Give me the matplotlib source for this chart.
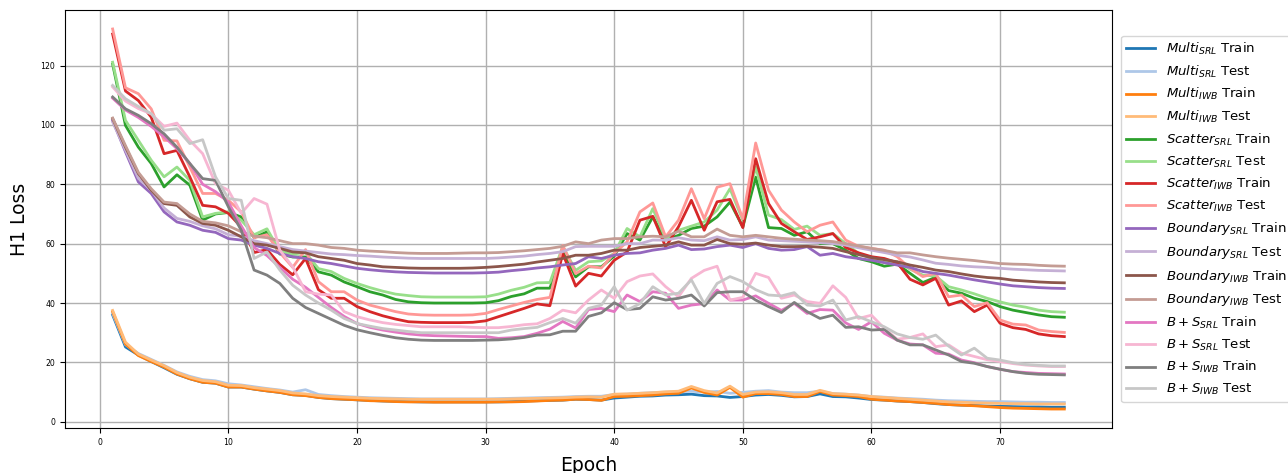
import numpy as np
import matplotlib
matplotlib.use('Agg')
import matplotlib.pyplot as plt

# ------------------------------------------------------------------------------------- #
# H1 loss per epoch
# ------------------------------------------------------------------------------------- #

epochs = np.arange(1, 76)

labels = [r'$Multi_{SRL}$ Train', r'$Multi_{SRL}$ Test',
          r'$Multi_{IWB}$ Train', r'$Multi_{IWB}$ Test',
          r'$Scatter_{SRL}$ Train', r'$Scatter_{SRL}$ Test',
          r'$Scatter_{IWB}$ Train', r'$Scatter_{IWB}$ Test',
          r'$Boundary_{SRL}$ Train', r'$Boundary_{SRL}$ Test',
          r'$Boundary_{IWB}$ Train', r'$Boundary_{IWB}$ Test',
          r'$B+S_{SRL}$ Train', r'$B+S_{SRL}$ Test',
          r'$B+S_{IWB}$ Train', r'$B+S_{IWB}$ Test']

multi_srl_train = [36.0, 25.2, 22.5, 20.3, 18.2, 16.0, 14.5, 13.3, 13.0, 11.7, 11.7, 11.0, 10.4, 9.9, 9.1, 8.9, 8.2, 7.8, 7.6, 7.4,
                   7.2, 7.0, 6.9, 6.8, 6.7, 6.7, 6.7, 6.7, 6.7, 6.7, 6.7, 6.8, 7.0, 7.1, 7.2, 7.3, 7.6, 7.5, 7.3, 8.0,
                   8.3, 8.6, 8.7, 9.0, 9.1, 9.3, 8.8, 8.7, 8.2, 8.5, 9.0, 9.2, 8.9, 8.4, 8.5, 9.4, 8.5, 8.4, 8.0, 7.5,
                   7.3, 7.0, 6.8, 6.5, 6.1, 5.8, 5.6, 5.5, 5.3, 5.2, 5.1, 5.0, 5.0, 4.9, 4.9]
multi_srl_test = [36.5, 26.0, 23.0, 21.0, 19.0, 16.8, 15.3, 14.2, 13.8, 12.8, 12.4, 11.8, 11.2, 10.7, 10.0, 10.8, 9.2, 8.8, 8.5, 8.3,
                  8.1, 8.0, 7.9, 7.8, 7.7, 7.7, 7.7, 7.7, 7.7, 7.7, 7.8, 7.9, 8.0, 8.1, 8.2, 8.3, 8.5, 8.6, 8.6, 9.2,
                  9.3, 9.6, 9.8, 10.0, 10.1, 10.3, 10.0, 10.2, 9.6, 9.9, 10.3, 10.5, 10.0, 9.8, 9.8, 10.3, 9.5, 9.3, 9.0, 8.5,
                  8.3, 8.0, 7.8, 7.6, 7.3, 7.1, 7.0, 6.9, 6.8, 6.8, 6.7, 6.6, 6.6, 6.5, 6.5]
multi_iwb_train = [37.1, 26.2, 22.3, 20.3, 18.4, 16.1, 14.5, 13.3, 13.0, 11.7, 11.7, 11.0, 10.4, 9.9, 9.1, 8.8, 8.2, 7.8, 7.6, 7.4,
                   7.1, 7.0, 6.8, 6.7, 6.7, 6.6, 6.6, 6.6, 6.6, 6.6, 6.7, 6.7, 6.8, 7.0, 7.2, 7.3, 7.6, 7.5, 7.2, 8.5,
                   8.6, 8.8, 9.0, 9.4, 9.6, 11.4, 9.9, 9.0, 11.6, 8.3, 9.5, 9.5, 9.2, 8.5, 8.5, 10.2, 9.0, 8.8, 8.5, 7.6,
                   7.3, 7.0, 6.8, 6.5, 6.2, 5.8, 5.6, 5.4, 5.1, 4.8, 4.6, 4.5, 4.4, 4.3, 4.3]
multi_iwb_test = [37.5, 26.8, 22.8, 20.8, 18.9, 16.6, 15.0, 13.9, 13.5, 12.3, 12.2, 11.5, 11.0, 10.5, 9.7, 9.4, 8.8, 8.5, 8.3, 8.1,
                  7.9, 7.8, 7.7, 7.6, 7.6, 7.6, 7.6, 7.6, 7.6, 7.6, 7.6, 7.7, 7.8, 7.9, 8.0, 8.1, 8.3, 8.4, 8.3, 9.3,
                  9.4, 9.6, 9.8, 10.1, 10.3, 11.9, 10.5, 9.7, 12.0, 9.2, 10.0, 10.1, 9.8, 9.2, 9.2, 10.6, 9.5, 9.3, 9.0, 8.5,
                  8.2, 7.9, 7.6, 7.3, 7.0, 6.7, 6.6, 6.4, 6.3, 6.2, 6.1, 6.1, 6.0, 6.0, 6.0]
scatter_srl_train = [120.5, 99.8, 92.5, 87.0, 79.1, 83.2, 79.7, 67.9, 70.0, 70.5, 69.0, 62.0, 64.0, 56.5, 55.5, 55.5, 50.5, 49.4, 47.1, 45.5,
                     43.8, 42.7, 41.2, 40.4, 40.1, 40.0, 40.0, 40.0, 40.0, 40.1, 40.8, 42.2, 43.1, 45.0, 45.0, 57.8, 48.8, 52.2, 52.2, 55.8,
                     63.4, 61.2, 69.0, 61.2, 62.8, 65.1, 65.9, 69.0, 74.0, 65.6, 82.4, 65.4, 65.1, 62.8, 64.0, 60.0, 60.0, 57.8, 55.0, 53.9,
                     52.4, 53.1, 50.0, 46.9, 48.7, 44.2, 43.3, 41.6, 40.5, 38.8, 37.6, 36.8, 36.0, 35.4, 35.2]
scatter_srl_test = [121.1, 101.5, 94.8, 88.1, 82.5, 85.8, 81.3, 69.0, 70.2, 70.7, 67.9, 63.0, 65.0, 57.5, 56.5, 57.0, 51.6, 50.6, 48.3, 46.6,
                    45.2, 44.0, 43.0, 42.5, 42.1, 42.0, 42.0, 42.0, 42.0, 42.1, 43.0, 44.3, 45.3, 46.8, 46.9, 59.1, 51.0, 53.9, 54.2, 56.7,
                    65.1, 62.3, 71.8, 61.7, 64.5, 65.9, 67.3, 71.3, 78.5, 67.9, 85.8, 69.6, 68.1, 64.8, 65.9, 62.8, 63.4, 60.0, 56.7, 55.0,
                    53.6, 53.9, 51.4, 49.4, 49.1, 45.5, 44.4, 43.1, 41.6, 40.4, 39.3, 38.6, 37.6, 37.1, 36.9]
scatter_iwb_train = [130.6, 111.4, 108.2, 102.6, 90.3, 91.4, 82.5, 72.9, 72.4, 70.2, 65.6, 57.0, 58.0, 53.0, 49.5, 55.0, 44.5, 41.6, 41.6, 38.8,
                     37.1, 35.7, 34.6, 33.7, 33.5, 33.4, 33.4, 33.4, 33.5, 34.0, 35.4, 36.8, 38.2, 39.7, 39.1, 56.7, 45.7, 50.0, 49.1, 54.4,
                     57.2, 67.9, 69.2, 58.9, 65.7, 74.6, 64.5, 74.1, 74.9, 65.4, 88.6, 73.5, 66.8, 64.0, 61.4, 62.3, 63.4, 58.7, 56.9, 55.6,
                     55.0, 53.6, 48.0, 46.1, 48.3, 39.3, 40.7, 37.1, 39.3, 33.2, 31.7, 31.1, 29.6, 29.0, 28.7]
scatter_iwb_test = [132.3, 112.5, 110.5, 105.4, 94.8, 94.6, 85.8, 76.9, 76.9, 74.6, 70.7, 62.0, 63.0, 57.0, 52.0, 58.0, 47.2, 43.8, 43.8, 41.0,
                    39.3, 38.2, 37.1, 36.3, 36.0, 35.9, 35.9, 35.9, 36.0, 36.5, 37.8, 39.0, 40.2, 41.2, 41.9, 59.4, 49.9, 52.4, 51.8, 56.7,
                    60.6, 70.7, 73.7, 62.3, 67.9, 78.5, 68.4, 79.0, 80.2, 68.4, 93.9, 78.0, 71.3, 67.3, 64.0, 66.2, 67.3, 61.2, 59.1, 58.4,
                    57.8, 55.6, 51.7, 48.9, 50.0, 42.1, 42.7, 38.8, 40.1, 34.3, 32.9, 32.6, 30.9, 30.4, 30.1]
boundary_srl_train = [101.5, 90.9, 80.8, 76.9, 70.7, 67.3, 66.2, 64.5, 63.8, 61.7, 61.2, 59.5, 58.4, 56.7, 55.6, 55.0, 53.9, 53.3, 52.5, 51.7,
                      51.2, 50.8, 50.5, 50.3, 50.2, 50.1, 50.1, 50.1, 50.1, 50.2, 50.4, 50.9, 51.3, 51.8, 52.2, 52.8, 53.3, 55.6, 55.0, 56.1,
                      56.7, 56.9, 57.8, 58.4, 59.5, 58.0, 58.2, 59.0, 59.5, 58.7, 60.0, 58.4, 57.8, 58.0, 59.0, 56.1, 56.7, 55.6, 55.0, 54.4,
                      53.6, 52.8, 52.0, 50.6, 50.0, 49.4, 48.6, 47.8, 47.1, 46.4, 45.8, 45.5, 45.2, 45.0, 44.9]
boundary_srl_test = [101.0, 91.5, 82.0, 78.0, 72.0, 68.5, 67.5, 66.0, 65.0, 63.0, 62.5, 61.0, 60.0, 59.0, 58.0, 57.5, 57.0, 56.5, 56.3, 56.0,
                     55.8, 55.5, 55.3, 55.1, 55.0, 55.0, 55.0, 55.0, 55.0, 55.0, 55.2, 55.5, 55.8, 56.3, 56.7, 57.3, 59.0, 59.1, 59.1, 59.1,
                     60.0, 60.0, 61.2, 61.2, 62.0, 61.2, 61.0, 62.3, 61.2, 61.4, 62.3, 61.2, 61.0, 60.8, 60.6, 60.3, 60.0, 59.5, 58.6, 57.8,
                     57.0, 56.1, 55.5, 54.5, 53.4, 53.0, 52.5, 52.2, 52.0, 51.7, 51.4, 51.2, 51.0, 50.9, 50.8]
boundary_iwb_train = [102.1, 92.5, 83.6, 78.0, 73.5, 72.9, 69.0, 66.8, 66.2, 64.5, 62.3, 60.0, 59.5, 58.4, 57.2, 56.9, 55.6, 55.0, 54.4, 53.3,
                      52.8, 52.2, 52.0, 51.8, 51.7, 51.7, 51.7, 51.7, 51.8, 52.0, 52.3, 52.7, 53.1, 53.8, 54.4, 55.0, 56.1, 56.1, 56.7, 57.8,
                      57.8, 58.7, 59.1, 59.5, 60.6, 59.5, 59.5, 61.4, 60.0, 59.8, 60.2, 59.5, 59.0, 59.0, 59.1, 58.8, 58.4, 57.3, 56.3, 55.3,
                      54.6, 53.9, 52.8, 52.0, 51.1, 50.6, 49.8, 49.1, 48.6, 48.3, 47.7, 47.4, 47.1, 46.9, 46.8]
boundary_iwb_test = [102.3, 93.0, 84.0, 78.5, 74.0, 73.5, 70.0, 67.5, 67.0, 66.0, 64.0, 62.5, 62.0, 61.0, 60.0, 60.0, 59.5, 58.7, 58.4, 57.8,
                     57.5, 57.3, 57.0, 56.8, 56.7, 56.7, 56.7, 56.8, 56.9, 56.9, 57.0, 57.3, 57.6, 58.0, 58.4, 59.1, 60.6, 60.0, 61.2, 61.7,
                     61.7, 62.3, 62.5, 62.3, 64.2, 62.3, 62.3, 64.9, 62.8, 62.3, 62.8, 62.3, 61.8, 61.5, 61.2, 61.0, 60.7, 60.0, 59.2, 58.4,
                     57.7, 56.9, 56.9, 56.2, 55.6, 55.1, 54.7, 54.3, 53.8, 53.3, 53.1, 53.0, 52.7, 52.5, 52.4]
bs_srl_train = [109.0, 105.0, 102.5, 99.5, 96.0, 92.0, 87.0, 80.0, 77.5, 74.0, 66.0, 58.7, 56.0, 52.0, 48.0, 45.3, 41.9, 38.5, 35.5, 33.1,
                31.8, 30.9, 30.2, 29.6, 29.2, 29.0, 28.9, 28.8, 28.7, 28.7, 28.1, 28.3, 28.7, 29.8, 31.2, 33.8, 31.6, 37.8, 38.2, 37.1,
                42.7, 40.5, 43.8, 43.3, 38.2, 39.3, 39.8, 44.4, 41.0, 41.0, 42.4, 39.9, 37.5, 39.9, 36.5, 37.8, 37.6, 33.3, 31.1, 33.7,
                29.8, 27.5, 26.2, 25.9, 23.1, 22.8, 20.8, 19.9, 18.6, 17.7, 16.9, 16.6, 16.3, 16.2, 16.1]
bs_srl_test = [112.8, 108.0, 105.5, 103.7, 99.5, 100.6, 94.8, 90.3, 80.2, 78.0, 70.2, 75.2, 73.3, 57.8, 52.2, 43.8, 43.0, 42.7, 37.1, 35.4,
               34.3, 33.4, 32.8, 32.4, 32.0, 32.0, 32.0, 32.0, 31.8, 31.7, 31.7, 32.1, 32.7, 33.0, 34.8, 37.6, 36.7, 41.0, 44.4, 41.6,
               47.2, 49.1, 49.8, 45.5, 42.1, 48.3, 51.0, 52.4, 41.0, 41.9, 50.0, 48.6, 41.6, 42.7, 40.5, 39.9, 45.8, 41.9, 34.8, 35.9,
               31.5, 27.8, 28.4, 29.6, 25.3, 25.9, 23.1, 22.0, 20.9, 20.3, 19.6, 19.1, 18.8, 18.6, 18.6]
bs_iwb_train = [109.4, 105.4, 103.2, 100.4, 97.0, 92.5, 87.0, 81.9, 81.3, 72.4, 64.5, 51.1, 49.4, 46.6, 41.6, 38.5, 36.5, 34.5, 32.5, 31.0,
                30.0, 29.1, 28.3, 27.8, 27.5, 27.4, 27.4, 27.4, 27.4, 27.5, 27.6, 27.9, 28.4, 29.2, 29.3, 30.5, 30.5, 35.5, 36.7, 40.1,
                37.8, 38.2, 42.1, 41.0, 41.6, 42.7, 39.0, 43.5, 43.8, 43.8, 41.0, 38.8, 36.8, 40.2, 37.1, 34.8, 35.9, 31.8, 32.0, 30.9,
                31.1, 27.5, 25.9, 25.9, 24.2, 22.5, 20.3, 19.7, 18.6, 17.7, 16.9, 16.3, 16.0, 15.9, 15.8]
bs_iwb_test = [113.3, 108.8, 106.2, 103.8, 98.2, 98.7, 93.7, 95.0, 82.5, 75.2, 74.6, 55.0, 57.2, 51.1, 46.0, 42.7, 40.0, 37.6, 34.8, 33.1,
               32.2, 31.4, 30.9, 30.4, 30.0, 30.0, 30.0, 30.0, 30.0, 30.0, 30.0, 30.9, 31.4, 31.8, 33.4, 34.8, 33.2, 38.2, 39.3, 45.5,
               37.6, 39.8, 45.5, 42.7, 43.3, 47.8, 39.8, 46.6, 48.9, 47.2, 44.5, 42.7, 42.4, 43.5, 39.3, 39.0, 41.0, 34.3, 35.4, 33.7,
               32.0, 29.6, 28.4, 27.8, 29.2, 25.5, 22.5, 24.8, 21.4, 20.8, 19.9, 19.3, 19.0, 18.8, 18.8]

series = [multi_srl_train, multi_srl_test, multi_iwb_train, multi_iwb_test,
          scatter_srl_train, scatter_srl_test, scatter_iwb_train, scatter_iwb_test,
          boundary_srl_train, boundary_srl_test, boundary_iwb_train, boundary_iwb_test,
          bs_srl_train, bs_srl_test, bs_iwb_train, bs_iwb_test]

# ------------------------------------------------------------------------------------- #

fig = plt.figure(figsize=(12.88, 4.73), dpi=100)
ax = fig.add_axes([0.0505, 0.0951, 0.8128, 0.8838])

colors = plt.cm.tab20.colors
for i, vals in enumerate(series):
    ax.plot(epochs, vals, color=colors[i], linewidth=2, label=labels[i])

ax.set_xticks(range(0, 71, 10))
ax.set_yticks(range(0, 121, 20))
ax.tick_params(axis='both', labelsize=5.6)
ax.grid(True, color='#b0b0b0', linewidth=1)
ax.set_xlabel('Epoch', fontsize=13.5, labelpad=7)
ax.set_ylabel('H1 Loss', fontsize=13.5, labelpad=8)
ax.legend(loc='center left', bbox_to_anchor=(1.005, 0.5), fontsize=9.5,
          borderaxespad=0.3, handlelength=2.2)

fig.savefig('out.png', dpi=100)
